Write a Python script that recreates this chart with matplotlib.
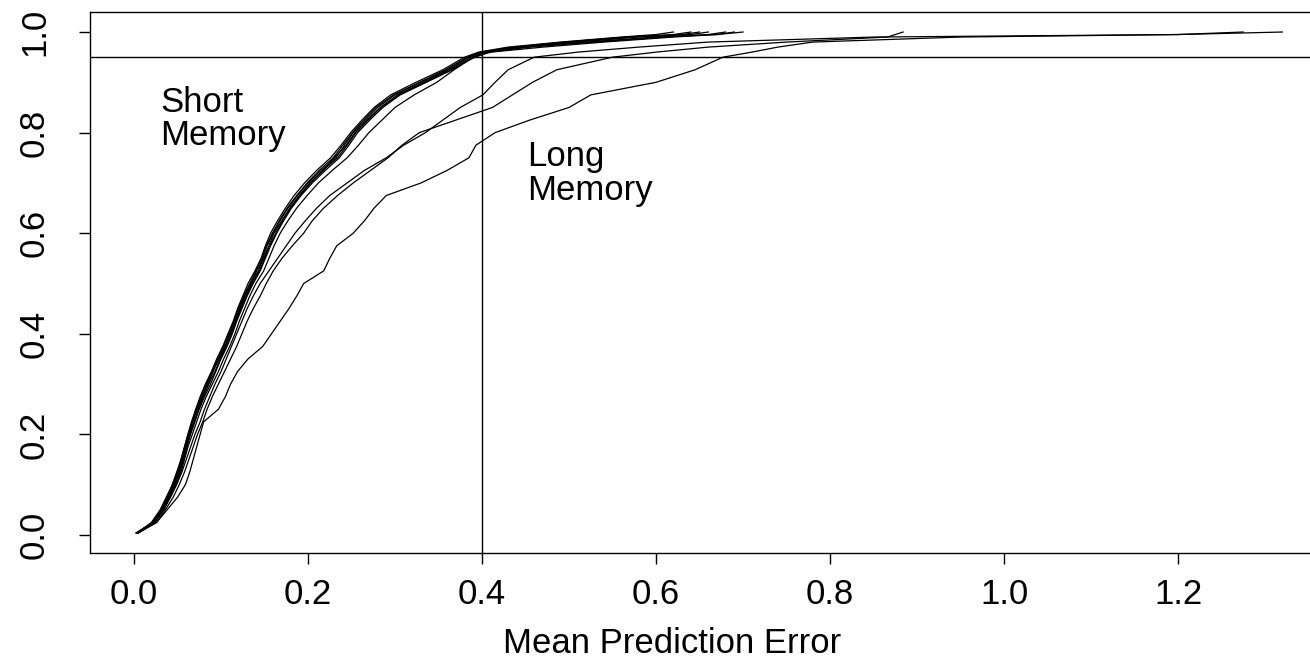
import matplotlib
matplotlib.use("Agg")
import matplotlib.pyplot as plt

plt.rcParams["font.family"] = ["Liberation Sans", "DejaVu Sans"]

levels = [0.004, 0.025, 0.05, 0.075, 0.1, 0.125, 0.15, 0.175, 0.2, 0.225,
          0.25, 0.275, 0.3, 0.325, 0.35, 0.375, 0.4, 0.425, 0.45, 0.475,
          0.5, 0.525, 0.55, 0.575, 0.6, 0.625, 0.65, 0.675, 0.7, 0.725,
          0.75, 0.775, 0.8, 0.825, 0.85, 0.875, 0.9, 0.925, 0.95, 0.96,
          0.97, 0.98, 0.99, 0.995, 1.0]

# short memory runs (mean prediction error at each level)
short_1 = [0.003, 0.022, 0.032, 0.039, 0.045, 0.051, 0.055, 0.059, 0.063, 0.068,
           0.072, 0.078, 0.085, 0.091, 0.097, 0.104, 0.111, 0.116, 0.121, 0.127,
           0.134, 0.143, 0.148, 0.153, 0.160, 0.168, 0.177, 0.188, 0.200, 0.215,
           0.232, 0.242, 0.252, 0.266, 0.280, 0.300, 0.330, 0.360, 0.385, 0.400,
           0.440, 0.500, 0.570, 0.630, 0.650]
short_2 = [0.004, 0.020, 0.030, 0.037, 0.044, 0.049, 0.054, 0.058, 0.062, 0.066,
           0.071, 0.076, 0.082, 0.089, 0.095, 0.102, 0.108, 0.114, 0.119, 0.125,
           0.131, 0.139, 0.146, 0.151, 0.157, 0.165, 0.174, 0.184, 0.196, 0.210,
           0.226, 0.238, 0.249, 0.262, 0.276, 0.295, 0.324, 0.355, 0.380, 0.396,
           0.430, 0.490, 0.560, 0.600, 0.620]
short_3 = [0.005, 0.024, 0.034, 0.041, 0.047, 0.053, 0.057, 0.061, 0.065, 0.070,
           0.075, 0.081, 0.088, 0.094, 0.100, 0.107, 0.113, 0.118, 0.124, 0.130,
           0.137, 0.145, 0.151, 0.157, 0.164, 0.172, 0.181, 0.192, 0.205, 0.220,
           0.236, 0.247, 0.257, 0.271, 0.286, 0.306, 0.336, 0.366, 0.390, 0.404,
           0.450, 0.510, 0.580, 0.640, 0.660]
short_4 = [0.003, 0.021, 0.031, 0.038, 0.046, 0.050, 0.056, 0.060, 0.064, 0.067,
           0.073, 0.079, 0.084, 0.090, 0.098, 0.105, 0.110, 0.117, 0.122, 0.128,
           0.135, 0.141, 0.149, 0.155, 0.161, 0.170, 0.179, 0.190, 0.202, 0.218,
           0.230, 0.244, 0.254, 0.268, 0.283, 0.303, 0.333, 0.362, 0.388, 0.402,
           0.445, 0.520, 0.600, 0.670, 0.700]
short_5 = [0.004, 0.023, 0.033, 0.040, 0.046, 0.052, 0.056, 0.060, 0.064, 0.069,
           0.074, 0.080, 0.086, 0.093, 0.099, 0.106, 0.112, 0.117, 0.123, 0.129,
           0.136, 0.144, 0.150, 0.156, 0.163, 0.171, 0.180, 0.191, 0.203, 0.217,
           0.234, 0.245, 0.255, 0.269, 0.284, 0.304, 0.334, 0.364, 0.392, 0.408,
           0.455, 0.530, 0.610, 0.660, 0.680]
short_6 = [0.002, 0.022, 0.031, 0.039, 0.044, 0.050, 0.054, 0.058, 0.062, 0.067,
           0.071, 0.077, 0.083, 0.090, 0.096, 0.103, 0.109, 0.115, 0.120, 0.126,
           0.133, 0.140, 0.147, 0.152, 0.159, 0.167, 0.176, 0.187, 0.199, 0.213,
           0.229, 0.240, 0.251, 0.264, 0.278, 0.298, 0.328, 0.358, 0.383, 0.398,
           0.435, 0.495, 0.565, 0.620, 0.640]
short_7 = [0.004, 0.023, 0.034, 0.041, 0.048, 0.054, 0.058, 0.062, 0.067, 0.072,
           0.077, 0.083, 0.090, 0.097, 0.103, 0.110, 0.116, 0.121, 0.127, 0.133,
           0.140, 0.149, 0.155, 0.161, 0.168, 0.177, 0.187, 0.199, 0.212, 0.228,
           0.245, 0.258, 0.270, 0.285, 0.300, 0.322, 0.348, 0.368, 0.390, 0.410,
           0.470, 0.540, 0.620, 0.670, 0.690]

# long memory runs
long_1 = [0.004, 0.024, 0.034, 0.042, 0.049, 0.055, 0.060, 0.065, 0.070, 0.076,
          0.081, 0.087, 0.093, 0.100, 0.106, 0.112, 0.118, 0.124, 0.130, 0.137,
          0.145, 0.155, 0.165, 0.175, 0.185, 0.197, 0.210, 0.225, 0.245, 0.265,
          0.290, 0.310, 0.335, 0.355, 0.375, 0.401, 0.415, 0.430, 0.460, 0.510,
          0.580, 0.660, 0.850, 1.200, 1.275]
long_2 = [0.005, 0.026, 0.036, 0.045, 0.052, 0.058, 0.063, 0.068, 0.073, 0.079,
          0.084, 0.090, 0.097, 0.104, 0.111, 0.118, 0.124, 0.130, 0.137, 0.145,
          0.152, 0.160, 0.170, 0.182, 0.195, 0.205, 0.218, 0.234, 0.252, 0.272,
          0.292, 0.308, 0.328, 0.370, 0.412, 0.435, 0.458, 0.486, 0.550, 0.600,
          0.660, 0.750, 0.866, 0.875, 0.884]
long_3 = [0.004, 0.026, 0.038, 0.050, 0.059, 0.064, 0.068, 0.072, 0.076, 0.080,
          0.097, 0.105, 0.111, 0.119, 0.131, 0.148, 0.158, 0.168, 0.178, 0.187,
          0.195, 0.218, 0.225, 0.233, 0.252, 0.265, 0.276, 0.290, 0.330, 0.360,
          0.385, 0.393, 0.415, 0.455, 0.500, 0.525, 0.600, 0.645, 0.677, 0.710,
          0.740, 0.780, 0.950, 1.200, 1.320]

short_runs = [short_1, short_2, short_3, short_4, short_5, short_6, short_7]
long_runs = [long_1, long_2, long_3]

xticks = [0.0, 0.2, 0.4, 0.6, 0.8, 1.0, 1.2]
yticks = [0.0, 0.2, 0.4, 0.6, 0.8, 1.0]

W, H = 1310, 661
fig = plt.figure(figsize=(W / 100, H / 100), dpi=100)
# plot box runs a little past the right edge of the picture
ax = fig.add_axes([90 / W, 1 - 553 / H, (1328 - 90) / W, (553 - 12) / H])

for run in short_runs + long_runs:
    ax.plot(run, levels, color="black", lw=0.9)

ax.axvline(0.4, color="black", lw=1.0)
ax.axhline(0.95, color="black", lw=1.0)

ax.set_xlim(-0.0506, 1.3724)
ax.set_ylim(-0.0358, 1.0398)

ax.set_xticks(xticks)
ax.set_xticklabels([f"{v:.1f}" for v in xticks])
ax.set_yticks(yticks)
ax.set_yticklabels([f"{v:.1f}" for v in yticks], rotation=90, va="center")
ax.tick_params(axis="both", direction="out", length=8, width=1.0,
               labelsize=25, color="black")
ax.tick_params(axis="x", pad=10)
ax.tick_params(axis="y", pad=20)
for s in ["left", "bottom", "top"]:
    ax.spines[s].set_linewidth(1.0)
ax.spines["right"].set_visible(False)

ax.text(0.030, 0.841, "Short", fontsize=25, va="baseline")
ax.text(0.030, 0.775, "Memory", fontsize=25, va="baseline")
ax.text(0.452, 0.734, "Long", fontsize=25, va="baseline")
ax.text(0.452, 0.666, "Memory", fontsize=25, va="baseline")

fig.text(672 / W, 1 - 653 / H, "Mean Prediction Error", fontsize=25,
         ha="center", va="baseline")

fig.savefig("out.png", dpi=100)
